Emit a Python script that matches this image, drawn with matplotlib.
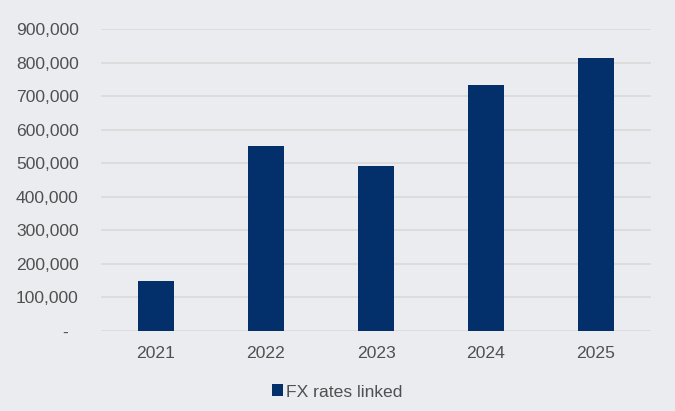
import matplotlib
matplotlib.use("Agg")
import matplotlib.pyplot as plt
from matplotlib.ticker import FuncFormatter

years = ["2021", "2022", "2023", "2024", "2025"]
fx_rates_linked = [150000, 551000, 492000, 732000, 813000]
series_name = "FX rates linked"
y_ticks = [0, 100000, 200000, 300000, 400000, 500000, 600000, 700000, 800000, 900000]

bg = "#EBECF0"
bar_color = "#032F6B"
grid_color = "#D9D9D9"
text_color = "#505050"

plt.rcParams['font.family'] = ['Liberation Sans', 'DejaVu Sans']

fig = plt.figure(figsize=(6.75, 4.11), dpi=100, facecolor=bg)
ax = fig.add_axes([101/675, 1-331/411, 550/675, (331-29)/411])
ax.set_facecolor(bg)

x = list(range(len(years)))
ax.bar(x, fx_rates_linked, width=0.327, color=bar_color, zorder=3, label=series_name)

ax.set_xlim(-0.5, len(years) - 0.5)
ax.set_ylim(0, 900000)
ax.set_yticks(y_ticks)

def fmt(v, pos):
    if v == 0:
        return "-  "
    return f"{int(v):,}"

ax.yaxis.set_major_formatter(FuncFormatter(fmt))
ax.set_xticks(x)
ax.set_xticklabels(years)

for s in ax.spines.values():
    s.set_visible(False)
ax.grid(axis='y', color=grid_color, linewidth=1.2, zorder=0)
ax.set_axisbelow(True)
ax.tick_params(axis='both', length=0, labelsize=12.6, colors=text_color)
ax.tick_params(axis='y', pad=16)
ax.tick_params(axis='x', pad=10.5)

leg = fig.legend(loc='center', bbox_to_anchor=(0.5, 1-392/411), frameon=False,
                 fontsize=12.6, handlelength=0.62, handleheight=0.66,
                 handletextpad=0.2, labelcolor=text_color)

fig.savefig("out.png", dpi=100, facecolor=bg)
